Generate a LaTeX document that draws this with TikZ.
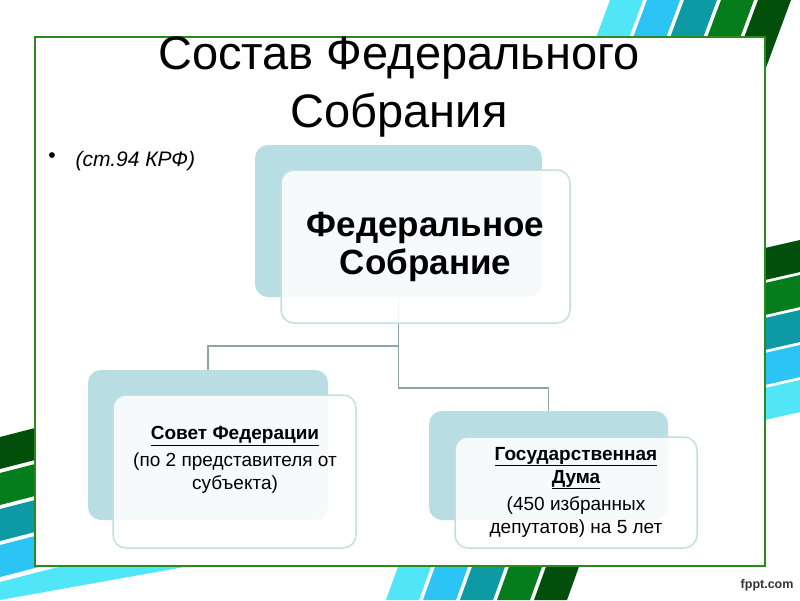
\documentclass[tikz,border=0pt]{standalone}
\usepackage{fontspec}
\setmainfont{Liberation Sans}
\usepackage{tikz}
\usetikzlibrary{positioning}
\definecolor{stripeA}{HTML}{50E5F7}
\definecolor{stripeB}{HTML}{2CC3F5}
\definecolor{stripeC}{HTML}{0E9AA5}
\definecolor{stripeD}{HTML}{067D1D}
\definecolor{stripeE}{HTML}{014F0B}
\definecolor{framegreen}{HTML}{2A8A1E}
\definecolor{boxblue}{HTML}{B8DDE3}
\definecolor{boxedge}{HTML}{C3DFE4}
\definecolor{linkgray}{HTML}{8CA6A7}

\begin{document}
\begin{tikzpicture}[x=1pt,y=-1pt,
	backbox/.style={fill=boxblue, rounded corners=13pt, inner sep=0pt},
	frontbox/.style={draw=boxedge, line width=1.5pt, fill=white, fill opacity=0.88, rounded corners=13pt, inner sep=0pt},
	link/.style={draw=linkgray, line width=1.6pt},
	boxtext/.style={align=center, font=\fontsize{19}{23}\selectfont}]
\useasboundingbox (0,0) rectangle (800,600);
\fill[white] (0,0) rectangle (800,600);

% stripes round the frame
\foreach \c [count=\i from 0] in {stripeA,stripeB,stripeC,stripeD,stripeE} {
\fill[\c] (610+37*\i,0) -- (643+37*\i,0) -- (613.4+37*\i,80) -- (580.4+37*\i,80) -- cycle;
\fill[\c] (386+37*\i,600) -- (419+37*\i,600) -- (440.6+37*\i,540) -- (407.6+37*\i,540) -- cycle;
}
\foreach \c [count=\i from 0] in {stripeE,stripeD,stripeC,stripeB,stripeA} {
\fill[\c] (740,253.7+35*\i) -- (800,240+35*\i) -- (800,272+35*\i) -- (740,285.7+35*\i) -- cycle;
}
\foreach \c [count=\i from 0] in {stripeE,stripeD,stripeC,stripeB} {
\fill[\c] (0,437+36*\i) -- (150,398.4+36*\i) -- (150,430.4+36*\i) -- (0,469+36*\i) -- cycle;
}
\fill[stripeA] (0,582) -- (190,533) -- (190,566) -- (0,600) -- cycle;
\draw[framegreen, line width=2pt, fill=white] (35,37) rectangle (765,566);

\node[align=center, font=\fontsize{47}{58}\selectfont] (title) at (399,87) {Состав Федерального\\Собрания};
\node (dot) at (52,158) {\fontsize{21}{25}\selectfont •};
\node[anchor=west, font=\fontsize{21}{25}\selectfont\itshape] (ref) at (72,161) {(ст.94 КРФ)};

% back boxes
\node[backbox, minimum width=287pt, minimum height=152pt] (fsback) at (398.5,221) {};
\node[backbox, minimum width=240pt, minimum height=150pt] (sfback) at (208,445) {};
\node[backbox, minimum width=239pt, minimum height=109pt] (gdback) at (548.5,465.5) {};

\draw[link] (fsback.south) -- ++(0,49) -| (sfback.north);
\draw[link] (fsback.south) -- ++(0,91) -| (gdback.north);

% front boxes
\node[frontbox, minimum width=289pt, minimum height=153pt] (fs) at (425.5,246.5) {};
\node[frontbox, minimum width=243pt, minimum height=153pt] (sf) at (234.5,471.5) {};
\node[frontbox, minimum width=242pt, minimum height=111pt] (gd) at (576,492.5) {};

\node[align=center, font=\fontsize{35}{38}\selectfont\bfseries] (fstext) at (fs) {Федеральное\\Собрание};
\node[boxtext] (sftext) at (235,460) {\textbf{\underline{Совет Федерации}}\\[4pt](по 2 представителя от\\субъекта)};
\node[boxtext] (gdtext) at (576,492) {\textbf{\underline{Государственная}}\\\textbf{\underline{Дума}}\\[4pt](450 избранных\\депутатов) на 5 лет};

\node[anchor=east, font=\fontsize{12.5}{14}\selectfont\bfseries, text=black!80] (site) at (797,585) {fppt.com};
\end{tikzpicture}
\end{document}
